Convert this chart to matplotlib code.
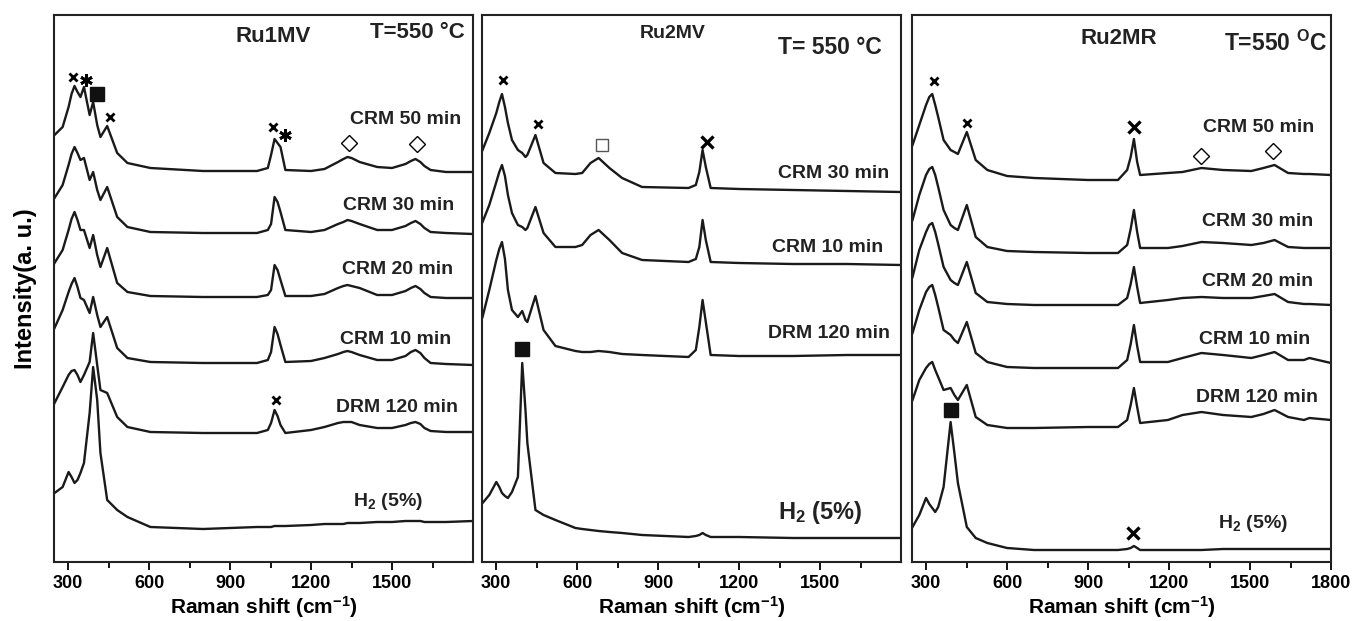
import matplotlib
matplotlib.use("Agg")
import matplotlib.pyplot as plt

plt.rcParams['font.family'] = ['Liberation Sans', 'DejaVu Sans']
plt.rcParams['font.weight'] = 'bold'
plt.rcParams['mathtext.fontset'] = 'custom'
plt.rcParams['mathtext.rm'] = 'Liberation Sans:bold'
plt.rcParams['mathtext.it'] = 'Liberation Sans:bold'
plt.rcParams['mathtext.bf'] = 'Liberation Sans:bold'

# ---- Ru1MV (raman shift grid + stacked intensities, a.u.) ----
x1 = [250, 280, 302, 313, 324, 335, 346, 359, 380, 393, 408, 420, 445, 482, 520, 605, 800, 1000,
      1040, 1052, 1065, 1076, 1087, 1105, 1200, 1250, 1300, 1320, 1335, 1350, 1380, 1445, 1500,
      1550, 1570, 1587, 1605, 1620, 1643, 1700, 1800]
ru1_crm50 = [427, 435, 455, 468, 476, 470, 465, 475, 447, 460, 437, 425, 436, 409, 399, 394, 391, 391,
             394, 407, 423, 419, 415, 392, 391, 393, 400, 403, 405, 404, 400, 395, 394,
             398, 401, 403, 400, 396, 392, 390, 390]
ru1_crm30 = [364, 377, 397, 408, 415, 409, 402, 404, 382, 390, 372, 362, 375, 345, 335, 330, 329, 329,
             332, 338, 365, 360, 350, 332, 330, 332, 338, 340, 342, 341, 338, 332, 332,
             336, 339, 341, 338, 334, 330, 329, 328]
ru1_crm20 = [299, 312, 332, 343, 350, 342, 332, 332, 314, 327, 307, 295, 314, 279, 270, 266, 265, 265,
             267, 272, 297, 292, 282, 266, 266, 268, 274, 276, 277, 276, 274, 267, 267,
             271, 274, 276, 273, 269, 265, 264, 264]
ru1_crm10 = [234, 252, 270, 278, 284, 275, 264, 262, 249, 265, 247, 235, 245, 214, 204, 200, 199, 199,
             202, 210, 235, 228, 217, 200, 201, 204, 208, 210, 211, 210, 207, 202, 202,
             206, 210, 212, 209, 204, 199, 198, 197]
ru1_drm120 = [159, 175, 187, 191, 192, 187, 180, 187, 200, 229, 197, 172, 169, 145, 135, 130, 129, 129,
              132, 139, 152, 146, 137, 129, 132, 135, 139, 140, 140, 140, 137, 134, 134,
              137, 139, 140, 138, 134, 131, 130, 130]
ru1_h2 = [69, 75, 90, 85, 79, 82, 89, 99, 149, 195, 162, 109, 62, 52, 45, 35, 33, 35,
          35, 35, 36, 36, 36, 36, 37, 38, 38, 38, 39, 39, 39, 40, 40,
          41, 41, 41, 41, 40, 40, 40, 41]

# ---- Ru2MV ----
x2 = [250, 275, 301, 312, 322, 333, 344, 359, 381, 397, 409, 416, 446, 476, 520, 594, 619, 650,
      680, 720, 767, 841, 1013, 1040, 1053, 1065, 1077, 1095, 1200, 1400, 1600, 1800]
ru2v_crm30 = [412, 429, 449, 460, 468, 455, 439, 422, 412, 409, 405, 407, 427, 399, 389, 388, 389, 399,
              404, 394, 384, 375, 374, 377, 390, 412, 395, 374, 373, 372, 371, 370]
ru2v_crm10 = [340, 357, 380, 390, 397, 386, 367, 349, 337, 335, 332, 334, 355, 329, 315, 315, 317, 327,
              332, 322, 309, 302, 300, 303, 315, 342, 322, 300, 299, 298, 298, 297]
ru2v_drm120 = [245, 272, 302, 313, 320, 303, 272, 252, 245, 251, 242, 240, 266, 232, 216, 211, 210, 210,
               211, 210, 208, 207, 205, 212, 235, 262, 240, 207, 206, 206, 207, 207]
ru2v_h2 = [59, 67, 80, 75, 69, 66, 64, 70, 85, 199, 152, 119, 52, 47, 42, 34, 33, 32,
           31, 30, 29, 27, 25, 26, 27, 29, 27, 25, 25, 24, 24, 24]

# ---- Ru2MR ----
x3 = [250, 275, 300, 312, 323, 334, 345, 365, 391, 405, 418, 451, 484, 527, 600, 700, 900, 1011,
      1045, 1058, 1070, 1082, 1093, 1196, 1250, 1320, 1400, 1505, 1550, 1591, 1641, 1700, 1720, 1800]
ru2r_crm50 = [417, 437, 457, 465, 468, 457, 445, 422, 412, 410, 408, 430, 402, 392, 386, 384, 382, 382,
              392, 405, 423, 400, 387, 389, 390, 394, 392, 391, 394, 397, 389, 388, 388, 387]
ru2r_crm30 = [342, 367, 387, 393, 395, 387, 375, 352, 337, 334, 332, 357, 325, 315, 311, 310, 309, 309,
              317, 333, 352, 330, 314, 314, 316, 320, 319, 317, 319, 322, 315, 314, 314, 314]
ru2r_crm20 = [285, 312, 330, 337, 339, 330, 318, 295, 282, 279, 277, 300, 269, 260, 258, 257, 257, 257,
              264, 278, 295, 275, 259, 262, 264, 265, 264, 264, 266, 268, 260, 258, 258, 257]
ru2r_crm10 = [229, 252, 270, 275, 277, 267, 255, 232, 227, 222, 219, 240, 209, 200, 195, 194, 194, 194,
              202, 218, 237, 216, 200, 200, 204, 209, 207, 204, 207, 210, 202, 202, 204, 199]
ru2r_drm120 = [162, 182, 194, 198, 200, 192, 185, 172, 174, 167, 162, 177, 145, 137, 134, 134, 135, 135,
               142, 157, 174, 155, 139, 142, 147, 150, 147, 145, 148, 152, 145, 142, 144, 142]
ru2r_h2 = [35, 47, 64, 58, 54, 50, 55, 75, 140, 109, 79, 35, 24, 19, 14, 12, 12, 12,
           13, 14, 16, 14, 12, 12, 12, 12, 13, 13, 13, 13, 13, 13, 13, 13]

# curve labels: (text, x, y)
labels1 = [("CRM 50 min", 1346, 442), ("CRM 30 min", 1320, 357), ("CRM 20 min", 1313, 292),
           ("CRM 10 min", 1306, 222), ("DRM 120 min", 1294, 155)]
labels2 = [("CRM 30 min", 1343, 388), ("CRM 10 min", 1324, 315), ("DRM 120 min", 1309, 229)]
labels3 = [("CRM 50 min", 1327, 434), ("CRM 30 min", 1323, 340), ("CRM 20 min", 1323, 281),
           ("CRM 10 min", 1312, 222), ("DRM 120 min", 1301, 165)]

# phase markers: (kind, x, y)
marks1 = [("x", 317, 485), ("ast", 365, 482), ("sq", 406, 468), ("x", 454, 445),
          ("x", 1061, 435), ("ast", 1102, 427), ("dia", 1339, 419), ("dia", 1594, 418),
          ("x", 1069, 162)]
marks2 = [("x", 324, 482), ("x", 454, 438), ("osq", 694, 417), ("X", 1083, 420), ("sq", 398, 213)]
marks3 = [("x", 328, 481), ("x", 450, 439), ("X", 1069, 435), ("dia", 1319, 406),
          ("dia", 1587, 411), ("sq", 391, 152), ("X", 1067, 29)]

W, H = 1354, 621
fig = plt.figure(figsize=(W / 100, H / 100), dpi=100)
ax_left = [54, 482, 912]
ax_w = 419
ax_bot, ax_top = 562, 15


def draw_mark(ax, kind, x, y):
    if kind == "x":
        ax.plot(x, y, marker="x", ms=6, mew=2, color="k")
    elif kind == "X":
        ax.plot(x, y, marker="x", ms=8, mew=2.4, color="k")
    elif kind == "ast":
        ax.plot(x, y, marker=(6, 2, 0), ms=9, mew=2, color="k")
    elif kind == "sq":
        ax.plot(x, y, marker="s", ms=10, color="#111111", mec="#111111")
    elif kind == "osq":
        ax.plot(x, y, marker="s", ms=9, mfc="white", mec="#555555", mew=1)
    elif kind == "dia":
        ax.plot(x, y, marker="D", ms=8, mfc="white", mec="k", mew=1)


panels = [
    (x1, [ru1_crm50, ru1_crm30, ru1_crm20, ru1_crm10, ru1_drm120, ru1_h2], labels1, marks1,
     ("Ru1MV", 1061, 525, 16), ("T=550 °C", 1420, 529, 16), ("H$_2$ (5%)", 1357, 60, 14)),
    (x2, [ru2v_crm30, ru2v_crm10, ru2v_drm120, ru2v_h2], labels2, marks2,
     ("Ru2MV", 954, 529, 14), ("T= 550 °C", 1346, 514, 16.5), ("H$_2$ (5%)", 1343, 50, 17)),
    (x3, [ru2r_crm50, ru2r_crm30, ru2r_crm20, ru2r_crm10, ru2r_drm120, ru2r_h2], labels3, marks3,
     ("Ru2MR", 1015, 523, 16), ("T=550 $^{\\mathrm{O}}$C", 1405, 519, 16.5), ("H$_2$ (5%)", 1383, 39, 14)),
]

for i, (xs, curves, labs, marks, title, temp, h2lab) in enumerate(panels):
    ax = fig.add_axes([ax_left[i] / W, (H - ax_bot) / H, ax_w / W, (ax_bot - ax_top) / H])
    for ys in curves:
        ax.plot(xs, ys, color="#1a1a1a", lw=1.7, solid_joinstyle="round")
    for t, tx, ty in labs:
        ax.text(tx, ty, t, fontsize=14, fontweight="bold", va="center", ha="left", color="#222222")
    ax.text(h2lab[1], h2lab[2], h2lab[0], fontsize=h2lab[3], fontweight="bold", va="center",
            ha="left", color="#222222")
    ax.text(title[1], title[2], title[0], fontsize=title[3], fontweight="bold", va="center",
            ha="center", color="#222222")
    ax.text(temp[1], temp[2], temp[0], fontsize=temp[3], fontweight="bold", va="center",
            ha="left", color="#222222")
    for kind, mx, my in marks:
        draw_mark(ax, kind, mx, my)

    ax.set_xlim(248, 1800)
    ax.set_ylim(0, 547)
    ax.set_yticks([])
    if i == 2:
        ax.set_xticks([300, 600, 900, 1200, 1500, 1800])
    else:
        ax.set_xticks([300, 600, 900, 1200, 1500])
    ax.set_xticks([450, 750, 1050, 1350, 1650], minor=True)
    ax.tick_params(axis="x", which="major", direction="out", length=6, width=1.3,
                   labelsize=13, pad=3)
    ax.tick_params(axis="x", which="minor", direction="out", length=4, width=1.3)
    for lab in ax.get_xticklabels():
        lab.set_fontweight("bold")
    for s in ax.spines.values():
        s.set_linewidth(1.5)
        s.set_color("#222222")
    ax.set_xlabel("Raman shift (cm$^{-1}$)", fontsize=15, fontweight="bold", labelpad=2)
    if i == 0:
        ax.set_ylabel("Intensity(a. u.)", fontsize=17, fontweight="bold", labelpad=12)

fig.savefig("out.png", dpi=100)
